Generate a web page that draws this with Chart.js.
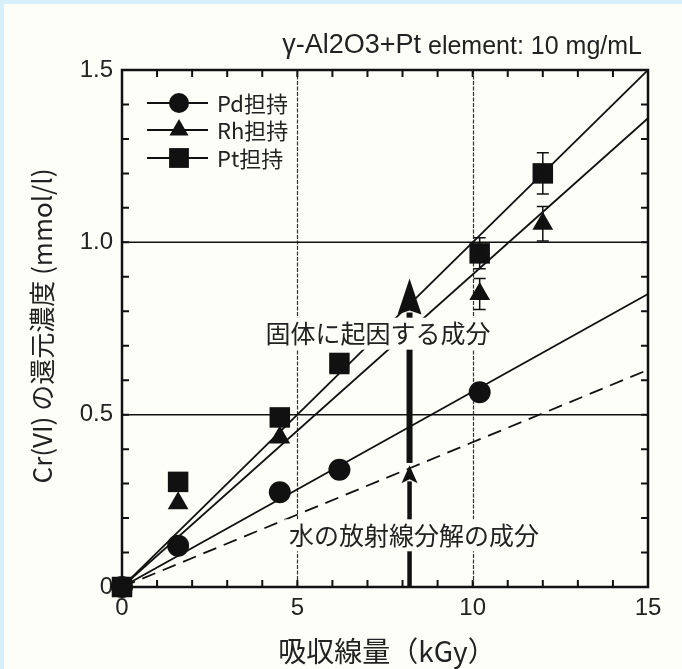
<!DOCTYPE html>
<html>
<head>
<meta charset="utf-8">
<script src="https://cdn.jsdelivr.net/npm/chart.js@4"></script>
<style>
  html, body { margin: 0; padding: 0; background: #d6effb; }
  canvas { display: block; }
</style>
</head>
<body>
<canvas id="myChart" width="682" height="669"></canvas>
<script>
// данные
const doses = [0, 1.6, 4.5, 6.2, 10.2, 12];
const pd_values = [0, 0.12, 0.275, 0.34, 0.565];
const rh_values = [0, 0.243, 0.434, 0.635, 0.85, 1.054];
const rh_errors = [0, 0, 0, 0, 0.045, 0.05];
const pt_values = [0, 0.305, 0.492, 0.65, 0.968, 1.2];
const pt_errors = [0, 0, 0, 0.015, 0.045, 0.06];

// прямые (начало и конец)
const line_x = [0, 15];
const pt_line = [0, 1.5];
const rh_line = [0, 1.36];
const pd_line = [0, 0.85];
const water_line = [0, 0.63];

const series_labels = ['Pd担持', 'Rh担持', 'Pt担持'];
const x_ticks = [0, 5, 10, 15];
const y_ticks = [0, 0.5, 1.0, 1.5];
const grid_x = [5, 10];
const grid_y = [0.5, 1.0];

// стрелки и подписи
const arrow_x = 8.2;
const upper_arrow = [0.36, 0.895];
const lower_arrow = [0, 0.353];
const note_solid = {text: '固体に起因する成分', x: 7.3, y: 0.735};
const note_water = {text: '水の放射線分解の成分', x: 8.33, y: 0.15};

const title_main = 'γ-Al2O3+Pt';
const title_rest = ' element: 10 mg/mL';
const x_title = '吸収線量（kGy）';
const y_title = 'Cr(VI) の還元濃度 (mmol/l)';

const LATIN = '"Liberation Sans", Arial, sans-serif';
const CJK = '"Noto Sans CJK JP", "Liberation Sans", sans-serif';

function pts(xs, ys) {
    return ys.map((y, i) => ({x: xs[i], y: y}));
}

const marker_style = {
    showLine: false,
    backgroundColor: '#111',
    borderColor: '#111',
    borderWidth: 0,
    clip: false,
};

const chart_data = {
    datasets: [
        {label: series_labels[0], data: pts(doses, pd_values), pointStyle: 'circle', pointRadius: 11, ...marker_style, order: 1},
        {label: series_labels[1], data: pts(doses, rh_values), pointStyle: 'triangle', pointRadius: 12, ...marker_style, order: 2},
        {label: series_labels[2], data: pts(doses, pt_values), pointStyle: 'rect', pointRadius: 14.5, ...marker_style, order: 0},
        {label: 'pt fit', data: pts(line_x, pt_line), showLine: true, pointRadius: 0, borderColor: '#111', borderWidth: 1.8, order: 5},
        {label: 'rh fit', data: pts(line_x, rh_line), showLine: true, pointRadius: 0, borderColor: '#111', borderWidth: 1.8, order: 5},
        {label: 'pd fit', data: pts(line_x, pd_line), showLine: true, pointRadius: 0, borderColor: '#111', borderWidth: 1.8, order: 5},
        {label: 'water', data: pts(line_x, water_line), showLine: true, pointRadius: 0, borderColor: '#111', borderWidth: 1.8, borderDash: [14, 8], order: 5},
    ]
};

const decor_plugin = {
    id: 'decor',
    beforeDraw(chart) {
        const ctx = chart.ctx;
        ctx.save();
        ctx.fillStyle = '#d6effb';
        ctx.fillRect(0, 0, chart.width, chart.height);
        ctx.fillStyle = '#fefef9';
        ctx.fillRect(4, 4, chart.width - 4, chart.height - 4);
        ctx.restore();
    },
    beforeDatasetsDraw(chart) {
        const ctx = chart.ctx;
        const xs = chart.scales.x, ys = chart.scales.y;
        const a = chart.chartArea;
        ctx.save();
        // сетка
        ctx.strokeStyle = '#333';
        ctx.lineWidth = 1.2;
        ctx.setLineDash([4, 1.5]);
        grid_x.forEach(v => {
            const px = Math.round(xs.getPixelForValue(v)) + 0.5;
            ctx.beginPath(); ctx.moveTo(px, a.top); ctx.lineTo(px, a.bottom); ctx.stroke();
        });
        ctx.setLineDash([]);
        ctx.strokeStyle = '#111';
        ctx.lineWidth = 1.5;
        grid_y.forEach(v => {
            const py = ys.getPixelForValue(v);
            ctx.beginPath(); ctx.moveTo(a.left, py); ctx.lineTo(a.right, py); ctx.stroke();
        });
        ctx.restore();
    },
    afterDatasetsDraw(chart) {
        const ctx = chart.ctx;
        const xs = chart.scales.x, ys = chart.scales.y;
        ctx.save();
        // погрешности
        ctx.strokeStyle = '#111';
        ctx.lineWidth = 1.5;
        [[rh_values, rh_errors], [pt_values, pt_errors]].forEach(([vals, errs]) => {
            vals.forEach((v, i) => {
                if (!errs[i]) return;
                const px = xs.getPixelForValue(doses[i]);
                const top = ys.getPixelForValue(v + errs[i]);
                const bot = ys.getPixelForValue(v - errs[i]);
                ctx.beginPath();
                ctx.moveTo(px, top); ctx.lineTo(px, bot);
                ctx.moveTo(px - 6, top); ctx.lineTo(px + 6, top);
                ctx.moveTo(px - 6, bot); ctx.lineTo(px + 6, bot);
                ctx.stroke();
            });
        });
        // стрелки
        const ax = xs.getPixelForValue(arrow_x);
        function arrow(y0, y1, shaft, headW, headH) {
            const p0 = ys.getPixelForValue(y0), p1 = ys.getPixelForValue(y1);
            ctx.fillStyle = '#111';
            ctx.fillRect(ax - shaft / 2, p1 + headH - 2, shaft, p0 - p1 - headH + 2);
            ctx.beginPath();
            ctx.moveTo(ax, p1);
            ctx.lineTo(ax + headW / 2, p1 + headH);
            ctx.lineTo(ax, p1 + headH - 4);
            ctx.lineTo(ax - headW / 2, p1 + headH);
            ctx.closePath();
            ctx.fill();
        }
        arrow(upper_arrow[0], upper_arrow[1], 6, 24, 36);
        arrow(lower_arrow[0], lower_arrow[1], 4.5, 16, 18);
        // подписи с фоном
        ctx.font = '25px ' + CJK;
        ctx.textAlign = 'center';
        ctx.textBaseline = 'middle';
        [note_solid, note_water].forEach(n => {
            const px = xs.getPixelForValue(n.x), py = ys.getPixelForValue(n.y);
            const w = ctx.measureText(n.text).width;
            ctx.fillStyle = '#fefef9';
            ctx.fillRect(px - w / 2 - 4, py - 16, w + 8, 32);
            ctx.fillStyle = '#222';
            ctx.fillText(n.text, px, py);
        });
        ctx.restore();
    },
    afterDraw(chart) {
        const ctx = chart.ctx;
        const xs = chart.scales.x, ys = chart.scales.y;
        const a = chart.chartArea;
        ctx.save();
        // рамка
        ctx.strokeStyle = '#111';
        ctx.lineWidth = 2.5;
        ctx.strokeRect(a.left, a.top, a.right - a.left, a.bottom - a.top);
        // засечки внутрь
        ctx.lineWidth = 2;
        ctx.beginPath();
        for (let v = 1; v < 15; v++) {
            const px = xs.getPixelForValue(v);
            ctx.moveTo(px, a.bottom); ctx.lineTo(px, a.bottom - 7);
            ctx.moveTo(px, a.top); ctx.lineTo(px, a.top + 7);
        }
        for (let k = 1; k < 15; k++) {
            const py = ys.getPixelForValue(k / 10);
            ctx.moveTo(a.left, py); ctx.lineTo(a.left + 7, py);
            ctx.moveTo(a.right, py); ctx.lineTo(a.right - 7, py);
        }
        ctx.stroke();
        // легенда
        const styles = ['circle', 'triangle', 'rect'];
        const radii = [10, 11, 14];
        const rows = [103, 130, 158];
        ctx.lineWidth = 2;
        ctx.font = '22px ' + CJK;
        ctx.textAlign = 'left';
        ctx.textBaseline = 'middle';
        series_labels.forEach((lab, i) => {
            ctx.strokeStyle = '#111';
            ctx.beginPath(); ctx.moveTo(147, rows[i]); ctx.lineTo(208, rows[i]); ctx.stroke();
            ctx.fillStyle = '#111';
            Chart.helpers.drawPoint(ctx, {pointStyle: styles[i], radius: radii[i], borderWidth: 0}, 179, rows[i]);
            ctx.fillStyle = '#222';
            ctx.fillText(lab, 217, rows[i] + 1);
        });
        // заголовок сверху
        ctx.fillStyle = '#222';
        ctx.textAlign = 'left';
        ctx.font = '25px ' + LATIN;
        const w2 = ctx.measureText(title_rest).width;
        ctx.font = '27px ' + LATIN;
        const w1 = ctx.measureText(title_main).width;
        const tx = 642 - w1 - w2;
        ctx.fillText(title_main, tx, 46);
        ctx.font = '25px ' + LATIN;
        ctx.fillText(title_rest, tx + w1, 47);
        // подписи осей
        ctx.font = '28px ' + CJK;
        ctx.textAlign = 'center';
        ctx.fillText(x_title, 387, 651);
        ctx.translate(42, 326);
        ctx.rotate(-Math.PI / 2);
        ctx.font = '26px ' + CJK;
        ctx.fillText(y_title, 0, 0);
        ctx.restore();
    }
};

const chart_config = {
    type: 'scatter',
    data: chart_data,
    options: {
        responsive: false,
        animation: false,
        devicePixelRatio: 1,
        layout: {padding: {left: 0, top: 70, right: 34, bottom: 0}},
        plugins: {legend: {display: false}, tooltip: {enabled: false}},
        scales: {
            x: {
                type: 'linear', min: 0, max: 15,
                afterFit: (s) => { s.height = 82; },
                afterBuildTicks: (s) => { s.ticks = x_ticks.map(v => ({value: v})); },
                grid: {display: false, drawTicks: false},
                border: {display: false},
                ticks: {font: {size: 24, family: LATIN}, color: '#222', padding: 7},
            },
            y: {
                type: 'linear', min: 0, max: 1.5,
                afterFit: (s) => { s.width = 122; },
                afterBuildTicks: (s) => { s.ticks = y_ticks.map(v => ({value: v})); },
                grid: {display: false, drawTicks: false},
                border: {display: false},
                ticks: {
                    font: {size: 24, family: LATIN}, color: '#222', padding: 9,
                    callback: (v) => v === 0 ? '0' : v.toFixed(1),
                },
            },
        },
    },
    plugins: [decor_plugin],
};

const myChart = new Chart(document.getElementById('myChart'), chart_config);
</script>
</body>
</html>
